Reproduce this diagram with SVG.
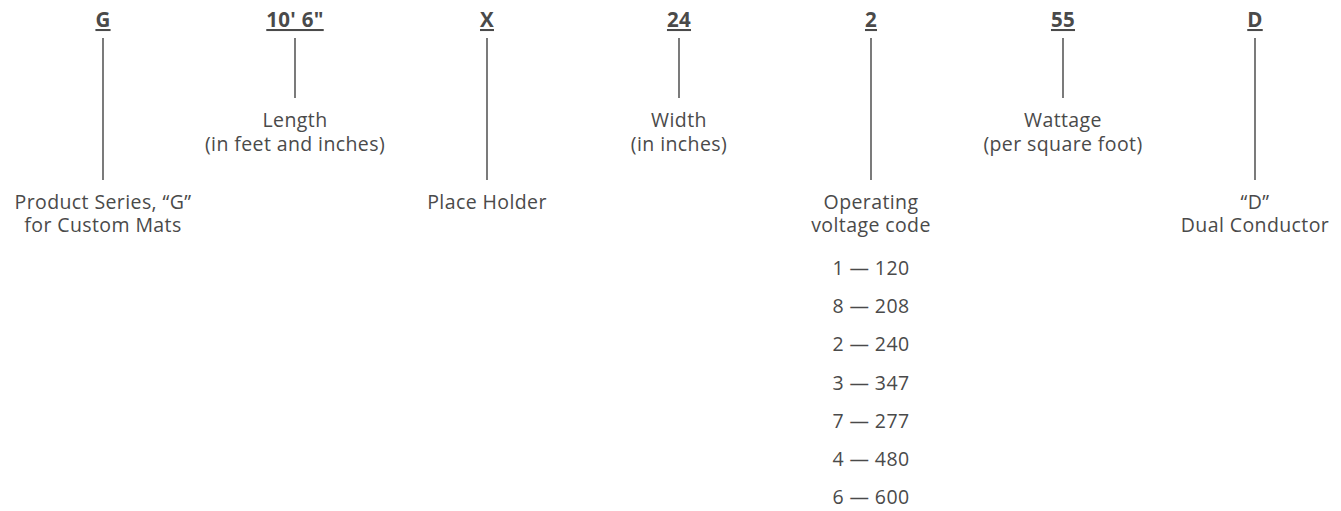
<svg xmlns="http://www.w3.org/2000/svg" width="1341" height="511" viewBox="0 0 1341 511">
<style>
text{font-family:"Open Sans","Noto Sans","Liberation Sans",sans-serif;fill:#4a4a4a;font-size:19.5px;letter-spacing:0.4px;text-anchor:middle}
.code{font-weight:bold;font-size:20.5px;letter-spacing:0.3px;text-decoration:underline}
.conn line{stroke:#222;stroke-width:1.2}
</style>
<rect width="1341" height="511" fill="#fff"/>
<g class="conn" id="connectors">
<line x1="103" y1="38" x2="103" y2="180"/>
<line x1="295" y1="38" x2="295" y2="98"/>
<line x1="487" y1="38" x2="487" y2="180"/>
<line x1="679" y1="38" x2="679" y2="98"/>
<line x1="871" y1="38" x2="871" y2="180"/>
<line x1="1063" y1="38" x2="1063" y2="98"/>
<line x1="1255" y1="38" x2="1255" y2="180"/>
</g>
<g id="node-g"><text class="code" x="103" y="27">G</text><text x="103" y="209">Product Series, “G”</text><text x="103" y="232">for Custom Mats</text></g>
<g id="node-length"><text class="code" x="295" y="27">10' 6"</text><text x="295" y="127">Length</text><text x="295" y="151">(in feet and inches)</text></g>
<g id="node-x"><text class="code" x="487" y="27">X</text><text x="487" y="209">Place Holder</text></g>
<g id="node-width"><text class="code" x="679" y="27">24</text><text x="679" y="127">Width</text><text x="679" y="151">(in inches)</text></g>
<g id="node-voltage"><text class="code" x="871" y="27">2</text><text x="871" y="209">Operating</text><text x="871" y="232">voltage code</text>
<text x="871" y="275">1 — 120</text><text x="871" y="313">8 — 208</text><text x="871" y="351">2 — 240</text><text x="871" y="390">3 — 347</text><text x="871" y="428">7 — 277</text><text x="871" y="466">4 — 480</text><text x="871" y="504">6 — 600</text></g>
<g id="node-wattage"><text class="code" x="1063" y="27">55</text><text x="1063" y="127">Wattage</text><text x="1063" y="151">(per square foot)</text></g>
<g id="node-d"><text class="code" x="1255" y="27">D</text><text x="1255" y="209">“D”</text><text x="1255" y="232">Dual Conductor</text></g>
</svg>
